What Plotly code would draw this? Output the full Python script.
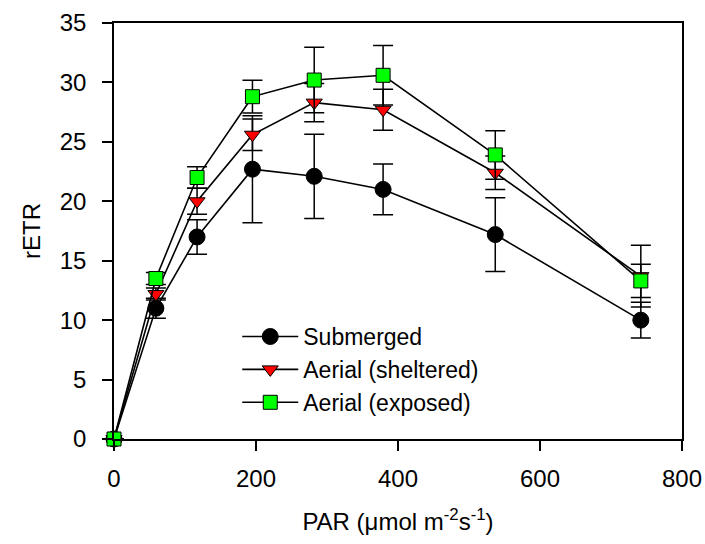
import plotly.graph_objects as go

PAR = [0, 59, 117, 195, 282, 379, 537, 742]
submerged = [0, 11.0, 17.0, 22.7, 22.1, 21.0, 17.2, 10.0]
submerged_err = [0, 0.85, 1.45, 4.5, 3.55, 2.13, 3.1, 1.5]
sheltered = [0, 12.2, 20.0, 25.6, 28.3, 27.7, 22.4, 13.7]
sheltered_err = [0, 0.5, 1.1, 1.33, 1.6, 1.72, 1.4, 2.6]
exposed = [0, 13.5, 22.0, 28.8, 30.2, 30.6, 23.9, 13.3]
exposed_err = [0, 0.5, 0.9, 1.38, 2.75, 2.5, 2.04, 1.4]

x_ticks = [0, 200, 400, 600, 800]
y_ticks = [0, 5, 10, 15, 20, 25, 30, 35]

FONT = "Arial, Liberation Sans, sans-serif"
FS = 24

series = [
    ("Submerged", submerged, submerged_err, "circle", "#000000", 16),
    ("Aerial (sheltered)", sheltered, sheltered_err, "triangle-down", "#FF0000", 14),
    ("Aerial (exposed)", exposed, exposed_err, "square", "#00FF00", 14),
]

fig = go.Figure()
for name, vals, errs, sym, col, sz in series:
    fig.add_trace(go.Scatter(
        x=PAR, y=vals, name=name, mode="lines+markers",
        line=dict(color="black", width=1.6),
        marker=dict(symbol=sym, size=sz, color=col, line=dict(color="black", width=1)),
        error_y=dict(type="data", array=errs, visible=True, color="black",
                     thickness=1.5, width=10),
        cliponaxis=False,
    ))

axis_common = dict(
    showline=True, linecolor="black", linewidth=1.5, mirror=True,
    ticks="outside", ticklen=10, tickwidth=1.5, tickcolor="black",
    showgrid=False, zeroline=False, automargin=False,
    tickfont=dict(family=FONT, size=FS, color="black"),
)

fig.update_xaxes(range=[0, 800], tickvals=x_ticks, ticktext=[str(v) for v in x_ticks],
                 title=dict(text="PAR (\u03bcmol m<sup>-2</sup>s<sup>-1</sup>)",
                            font=dict(family=FONT, size=FS, color="black"), standoff=23),
                 ticklabelstandoff=7, **axis_common)
fig.update_yaxes(range=[0, 35], tickvals=y_ticks, ticktext=[str(v) for v in y_ticks],
                 title=dict(text="rETR", font=dict(family=FONT, size=FS, color="black"),
                            standoff=12),
                 ticklabelstandoff=11, **axis_common)

fig.update_layout(
    width=705, height=544,
    margin=dict(l=114, r=23, t=23, b=105),
    paper_bgcolor="white", plot_bgcolor="white",
    font=dict(family=FONT, size=FS, color="black"),
    legend=dict(x=0.217, y=0.298, xanchor="left", yanchor="top",
                bgcolor="rgba(0,0,0,0)", font=dict(family=FONT, size=23, color="black"),
                tracegroupgap=0, itemsizing="trace", itemwidth=56),
    showlegend=True,
)

fig.write_html("out.html")
